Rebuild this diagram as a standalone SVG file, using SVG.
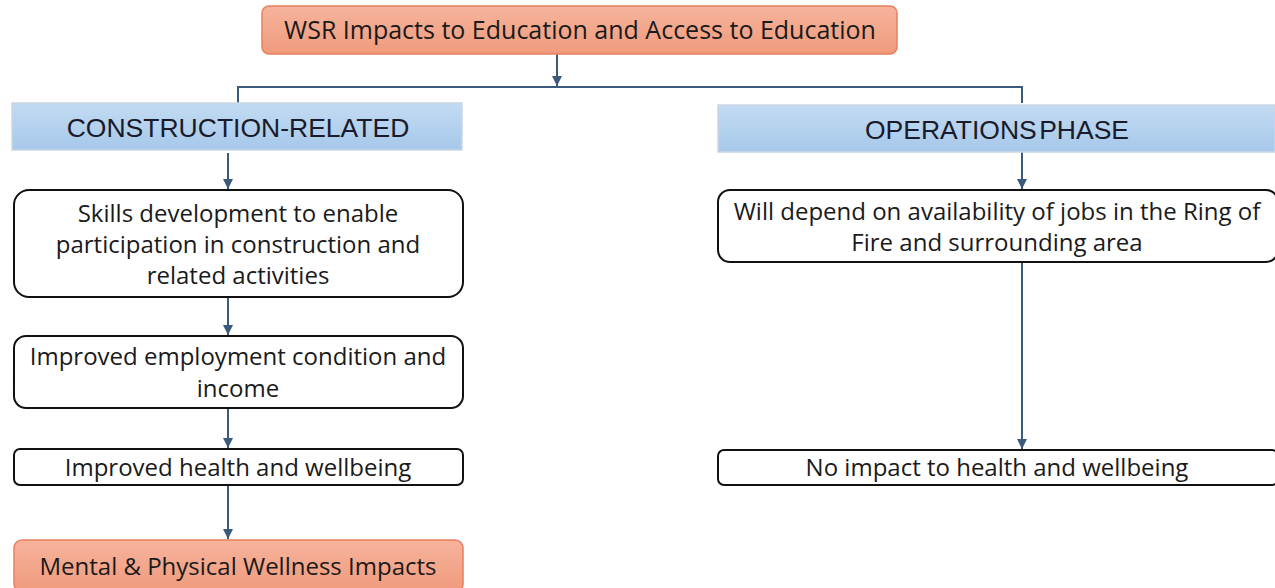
<svg xmlns="http://www.w3.org/2000/svg" width="1275" height="588" viewBox="0 0 1275 588">
<defs>
<linearGradient id="og" x1="0" y1="0" x2="0" y2="1"><stop offset="0" stop-color="#f6b49c"/><stop offset="1" stop-color="#f09a7c"/></linearGradient>
<linearGradient id="bg" x1="0" y1="0" x2="0" y2="1"><stop offset="0" stop-color="#c3dbf2"/><stop offset="1" stop-color="#a6c8ea"/></linearGradient>
<marker id="ah" viewBox="0 0 10 10" refX="10" refY="5" markerWidth="5" markerHeight="5" orient="auto"><path d="M0,0 L10,5 L0,10 z" fill="#3b5a7c"/></marker>
<style>
.t{font-family:"Open Sans","Liberation Sans",sans-serif;font-size:24px;fill:#1a1a1a;text-anchor:middle}
.h{font-family:"Liberation Sans",Arial,sans-serif;font-size:26.5px;fill:#1a1a2a;text-anchor:middle}
.w{fill:#fff;stroke:#111;stroke-width:2}
.o{fill:url(#og);stroke:#e8805f;stroke-width:1.5}
.b{fill:url(#bg);stroke:#c9d8e6;stroke-width:1.5}
.c{fill:none;stroke:#3b5a7c;stroke-width:2}
</style>
</defs>
<g id="connectors">
<path class="c" d="M557,54 V86" marker-end="url(#ah)"/>
<path class="c" d="M238,103 V87 H1022 V103"/>
<path class="c" d="M228,153 V189" marker-end="url(#ah)"/>
<path class="c" d="M228,297 V335" marker-end="url(#ah)"/>
<path class="c" d="M228,408 V448" marker-end="url(#ah)"/>
<path class="c" d="M228,485 V539" marker-end="url(#ah)"/>
<path class="c" d="M1022,152 V189" marker-end="url(#ah)"/>
<path class="c" d="M1022,262 V449" marker-end="url(#ah)"/>
</g>
<g id="top"><rect class="o" x="262" y="6" width="635" height="48" rx="7"/><text class="t" x="580" y="39" style="font-size:25px">WSR Impacts to Education and Access to Education</text></g>
<g id="construction"><rect class="b" x="12" y="103" width="450" height="47"/><text class="h" x="238" y="137">CONSTRUCTION-RELATED</text></g>
<g id="operations"><rect class="b" x="718" y="105" width="557" height="47"/><text class="h" x="997" y="139" style="word-spacing:-5px">OPERATIONS PHASE</text></g>
<g id="skills"><rect class="w" x="14" y="190" width="449" height="107" rx="15"/><text class="t" x="238" y="222">Skills development to enable</text><text class="t" x="238" y="253">participation in construction and</text><text class="t" x="238" y="284">related activities</text></g>
<g id="employment"><rect class="w" x="14" y="336" width="449" height="72" rx="12"/><text class="t" x="238" y="365">Improved employment condition and</text><text class="t" x="238" y="397">income</text></g>
<g id="health"><rect class="w" x="14" y="449" width="449" height="36" rx="6"/><text class="t" x="238" y="476">Improved health and wellbeing</text></g>
<g id="mental"><rect class="o" x="14" y="540" width="449" height="52" rx="8"/><text class="t" x="238" y="575">Mental &amp; Physical Wellness Impacts</text></g>
<g id="depend"><rect class="w" x="718" y="190" width="560" height="72" rx="12"/><text class="t" x="997" y="220">Will depend on availability of jobs in the Ring of</text><text class="t" x="997" y="251">Fire and surrounding area</text></g>
<g id="noimpact"><rect class="w" x="718" y="450" width="560" height="35" rx="6"/><text class="t" x="997" y="476">No impact to health and wellbeing</text></g>
</svg>
